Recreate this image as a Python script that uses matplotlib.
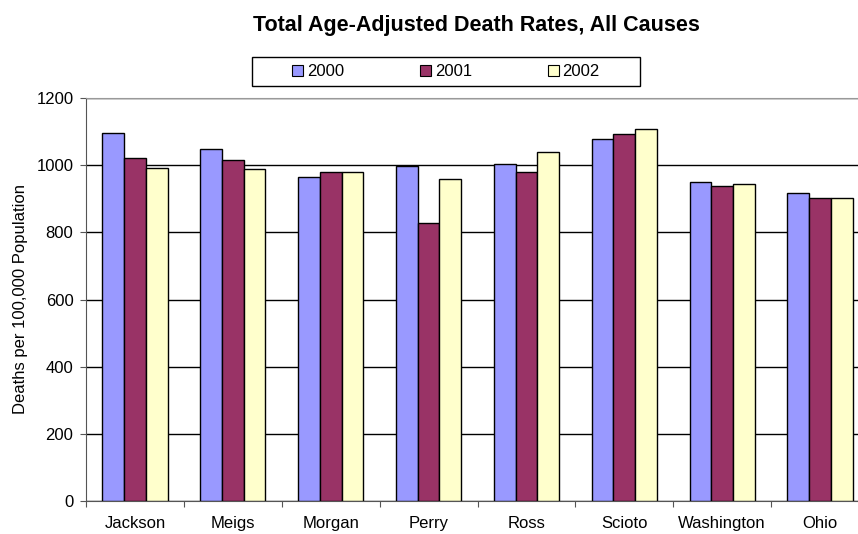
import numpy as np
import matplotlib.pyplot as plt
from matplotlib.patches import Rectangle

plt.rcParams['font.family'] = ['Liberation Sans', 'DejaVu Sans']

counties = ["Jackson", "Meigs", "Morgan", "Perry", "Ross", "Scioto", "Washington", "Ohio"]
years = ["2000", "2001", "2002"]
rates_2000 = [1096, 1048, 965, 998, 1004, 1079, 949, 918]
rates_2001 = [1020, 1015, 979, 829, 980, 1094, 939, 903]
rates_2002 = [991, 990, 981, 960, 1040, 1108, 943, 902]
colors = ["#9999FF", "#993366", "#FFFFCC"]

fig = plt.figure(figsize=(8.58, 5.34), dpi=100)
ax = fig.add_axes([86 / 858, 33 / 534, 783 / 858, 403 / 534])

x = np.arange(len(counties))
w = 0.222
for i, vals in enumerate([rates_2000, rates_2001, rates_2002]):
    ax.bar(x + (i - 1) * w, vals, width=w, color=colors[i],
           edgecolor="black", linewidth=1.0, zorder=3)

ax.set_xlim(-0.5, len(counties) - 0.5)
ax.set_ylim(0, 1200)
ax.set_yticks(range(0, 1201, 200))
ax.yaxis.grid(True, color="black", linewidth=1.0, zorder=0)

# category boundaries get the tick marks, names sit centred below
ax.set_xticks(np.arange(len(counties) + 1) - 0.5)
ax.set_xticklabels([])
ax.set_xticks(x, minor=True)
ax.set_xticklabels(counties, minor=True, fontsize=12)
ax.tick_params(axis="x", which="minor", length=0, pad=11)
ax.tick_params(axis="x", which="major", length=4, color="#555555")
ax.tick_params(axis="y", length=4, color="#555555", labelsize=12, pad=5)

ax.spines["right"].set_visible(False)
ax.spines["top"].set_color("#999999")
ax.spines["left"].set_color("#555555")
ax.spines["bottom"].set_color("#555555")

ax.set_ylabel("Deaths per 100,000 Population", fontsize=12, labelpad=6)

fig.text(476 / 858, 1 - 25 / 534, "Total Age-Adjusted Death Rates, All Causes",
         ha="center", va="center", fontsize=15.5, fontweight="bold")

# legend box drawn separately so the entries can keep their own spacing
fig.patches.append(Rectangle((252 / 858, 1 - 86 / 534), 388 / 858, 29 / 534,
                             transform=fig.transFigure, facecolor="white",
                             edgecolor="black", linewidth=1.0, zorder=5))
handles = [Rectangle((0, 0), 1, 1, facecolor=c, edgecolor="black", linewidth=0.8) for c in colors]
leg = fig.legend(handles, years, ncol=3, loc="center",
                 bbox_to_anchor=(446 / 858, 1 - 71.5 / 534),
                 bbox_transform=fig.transFigure, fontsize=12, frameon=False,
                 handlelength=0.64, handleheight=0.64, columnspacing=4.56,
                 handletextpad=0.24, borderaxespad=0, borderpad=0)
leg.set_zorder(6)

fig.savefig("out.png", dpi=100)
